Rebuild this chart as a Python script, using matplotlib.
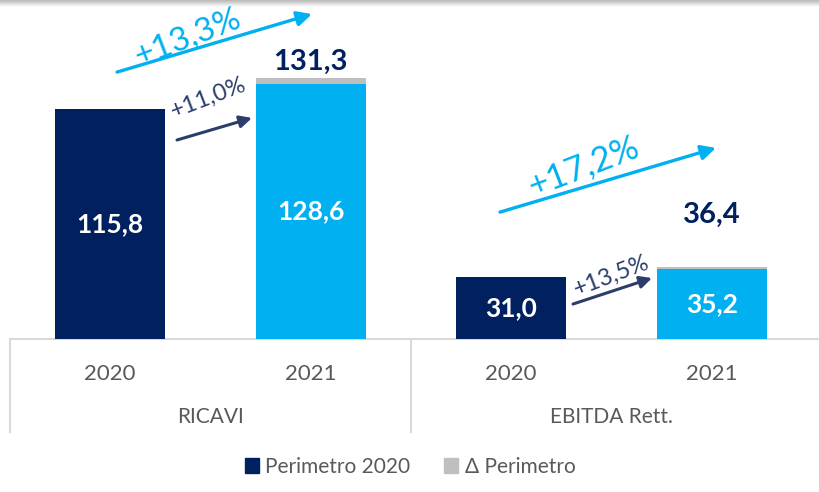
import matplotlib.pyplot as plt
import matplotlib.transforms as mtransforms
from matplotlib.patches import Patch
import numpy as np

plt.rcParams['font.family'] = ['Lato', 'DejaVu Sans']

years = ["2020", "2021", "2020", "2021"]
groups = ["RICAVI", "EBITDA Rett."]
perimetro = [115.8, 128.6, 31.0, 35.2]
delta = [0.0, 2.7, 0.0, 1.2]
totals = [None, "131,3", None, "36,4"]
growth_total = ["+13,3%", "+17,2%"]
growth_like = ["+11,0%", "+13,5%"]

navy = "#002060"
cyan = "#00B0F0"
grey = "#BFBFBF"
arrow_navy = "#2B3E6B"
txt_grey = "#595959"
line_grey = "#D9D9D9"

W, H = 820, 492
fig = plt.figure(figsize=(W / 100, H / 100), dpi=100)

# top shadow (behind everything)
sax = fig.add_axes([0, 1 - 7 / H, 1, 7 / H], zorder=0)
grad = np.linspace(0.72, 1.0, 50).reshape(-1, 1)
sax.imshow(grad, aspect="auto", cmap="gray", vmin=0, vmax=1,
           extent=[0, 1, 0, 1])
sax.axis("off")

ax = fig.add_axes([10 / W, (H - 339) / H, 802 / W, 339 / H], zorder=1)
ax.patch.set_alpha(0)
ax.set_xlim(-0.5, 3.5)
ax.set_ylim(0, 339 / 1.986)

x = np.arange(len(years))
colors = [navy, cyan, navy, cyan]
ax.bar(x, perimetro, width=0.55, color=colors, zorder=2)
ax.bar(x, delta, bottom=perimetro, width=0.55, color=grey, zorder=2)

for xi, v in zip(x, perimetro):
    ax.text(xi, v / 2, f"{v:.1f}".replace(".", ","), ha="center", va="center",
            color="white", fontsize=19, fontweight="bold")

# totals above 2021 bars
offs = {1: 8, 3: 26}
for xi in (1, 3):
    top = perimetro[xi] + delta[xi]
    ax.text(xi, top + offs[xi], totals[xi], ha="center", va="center",
            color=navy, fontsize=21, fontweight="bold")

# growth arrows (annotations)
def arrow(x0, y0, x1, y1, color, lw, ms):
    ax.annotate("", xy=(x1, y1), xytext=(x0, y0),
                arrowprops=dict(arrowstyle="-|>", color=color, lw=lw,
                                mutation_scale=ms, shrinkA=0, shrinkB=0))

arrow(0.034, 134.4, 1.006, 163.6, cyan, 2.4, 22)
arrow(1.944, 63.9, 3.021, 96.2, cyan, 2.4, 22)
arrow(0.333, 100.2, 0.707, 111.3, arrow_navy, 2.2, 18)
arrow(2.308, 17.6, 2.702, 30.7, arrow_navy, 2.2, 18)

ax.text(0.385, 152.0, growth_total[0], color=cyan, fontsize=24, rotation=21,
        ha="center", va="center", rotation_mode="anchor")
ax.text(2.36, 87.0, growth_total[1], color=cyan, fontsize=25, rotation=21,
        ha="center", va="center", rotation_mode="anchor")
ax.text(0.49, 121.5, growth_like[0], color=arrow_navy, fontsize=17, rotation=21,
        ha="center", va="center", rotation_mode="anchor")
ax.text(2.5, 32.0, growth_like[1], color=arrow_navy, fontsize=17, rotation=21,
        ha="center", va="center", rotation_mode="anchor")

# axis / category table
for s in ax.spines.values():
    s.set_visible(False)
ax.set_yticks([])
ax.set_xticks(x, years)
ax.tick_params(axis="x", length=0, pad=18, labelsize=16, labelcolor=txt_grey)

trans = mtransforms.blended_transform_factory(ax.transData, ax.transAxes)
ax.plot([-0.5, 3.6], [0, 0], transform=trans, color=line_grey, lw=1.5,
        clip_on=False, zorder=1)
for xv in (-0.5, 1.5):
    ax.plot([xv, xv], [0, -93 / 339], transform=trans, color=line_grey, lw=1.5,
            clip_on=False)
for gi, g in enumerate(groups):
    ax.text(0.5 + 2 * gi, -78 / 339, g, transform=trans, ha="center",
            va="center", fontsize=15, color=txt_grey)

# legend
handles = [Patch(color=navy, label="Perimetro 2020"),
           Patch(color=grey, label="Δ Perimetro")]
fig.legend(handles=handles, loc="center", bbox_to_anchor=(0.5, 25 / H),
           ncol=2, frameon=False, fontsize=15, labelcolor=txt_grey,
           handlelength=0.7, handleheight=0.7, handletextpad=0.3,
           columnspacing=1.6)

fig.savefig("out.png", dpi=100)
